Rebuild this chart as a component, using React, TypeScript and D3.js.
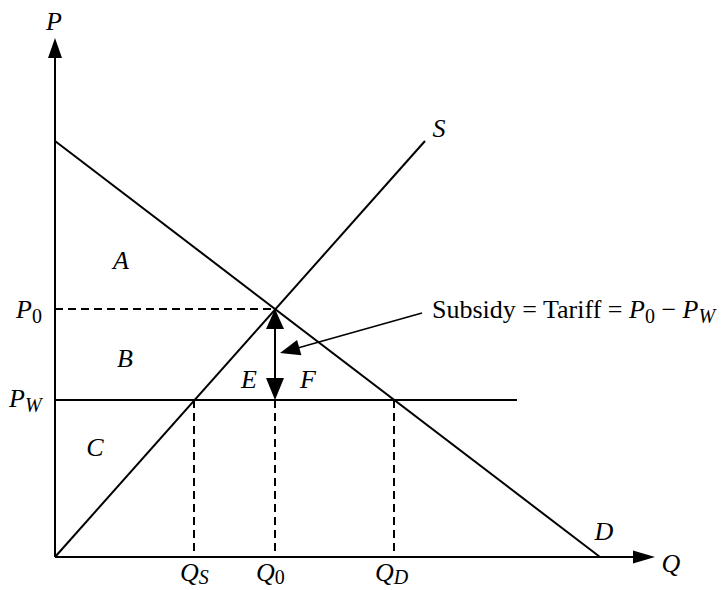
import React from "react";
import * as d3 from "d3";

// Model values (arbitrary units: quantity Q, price P)
const demandPoints: [number, number][] = [[0, 41.6], [54.5, 0]];
const supplyPoints: [number, number][] = [[0, 0], [37, 41.6]];
const priceLevels = { P0: 24.8, PW: 15.7 };
const quantityLevels = { QS: 13.9, Q0: 22, QD: 33.9 };
const worldPriceLineEnd = 46.2;
const axisMax = { Q: 60, P: 51.9 };

const W = 726, H = 590;
const x = d3.scaleLinear().domain([0, 60]).range([55, 655]);
const y = d3.scaleLinear().domain([0, 52]).range([557, 37]);
const line = d3.line<[number, number]>().x(d => x(d[0])).y(d => y(d[1]));

const FONT = "'Liberation Serif', 'Times New Roman', serif";
const FS = 26;
const SUB = 20;

function Sub({ base, sub, xx, yy, dy = 5 }: { base: string; sub: string; xx: number; yy: number; dy?: number }) {
  return (
    <text x={xx} y={yy} fontFamily={FONT} fontSize={FS} fontStyle="italic">
      {base}
      <tspan fontSize={SUB} dy={dy} fontStyle={/\d/.test(sub) ? "normal" : "italic"}>{sub}</tspan>
    </text>
  );
}

function tri(tip: [number, number], dir: [number, number], len: number, half: number) {
  const [tx, ty] = tip;
  const [dx, dy] = dir;
  const n = Math.hypot(dx, dy);
  const ux = dx / n, uy = dy / n;
  const bx = tx - ux * len, by = ty - uy * len;
  const px = -uy, py = ux;
  return `M${tx},${ty}L${bx + px * half},${by + py * half}L${bx - px * half},${by - py * half}Z`;
}

export default function App() {
  const x0 = x(0), y0 = y(0);
  const yP0 = y(priceLevels.P0), yPW = y(priceLevels.PW);
  const xQ0 = x(quantityLevels.Q0);
  const ptrStart: [number, number] = [422, 313];
  const ptrTip: [number, number] = [280, 353];
  const stroke = "#000";
  return (
    <svg width={W} height={H} style={{ position: "absolute", left: 0, top: 0, background: "#fff" }}>
      {/* axes */}
      <line x1={x0} y1={y0} x2={x0} y2={y(axisMax.P) + 18} stroke={stroke} strokeWidth={2} />
      <path d={tri([x0, y(axisMax.P)], [0, -1], 20, 7)} fill={stroke} />
      <line x1={x0} y1={y0} x2={x(axisMax.Q) - 18} y2={y0} stroke={stroke} strokeWidth={2} />
      <path d={tri([x(axisMax.Q), y0], [1, 0], 22, 6.5)} fill={stroke} />

      {/* dashed guides */}
      <line x1={x0} y1={yP0} x2={xQ0} y2={yP0} stroke={stroke} strokeWidth={2} strokeDasharray="8,5" />
      <line x1={x(quantityLevels.QS)} y1={yPW} x2={x(quantityLevels.QS)} y2={y0} stroke={stroke} strokeWidth={2} strokeDasharray="8,5" />
      <line x1={xQ0} y1={yPW} x2={xQ0} y2={y0} stroke={stroke} strokeWidth={2} strokeDasharray="8,5" />
      <line x1={x(quantityLevels.QD)} y1={yPW} x2={x(quantityLevels.QD)} y2={y0} stroke={stroke} strokeWidth={2} strokeDasharray="8,5" />

      {/* world price line */}
      <line x1={x0} y1={yPW} x2={x(worldPriceLineEnd)} y2={yPW} stroke={stroke} strokeWidth={2} />

      {/* curves */}
      <path d={line(demandPoints) || ""} stroke={stroke} strokeWidth={2} fill="none" />
      <path d={line(supplyPoints) || ""} stroke={stroke} strokeWidth={2} fill="none" />

      {/* double arrow */}
      <line x1={xQ0} y1={yP0 + 15} x2={xQ0} y2={yPW - 15} stroke={stroke} strokeWidth={2} />
      <path d={tri([xQ0, yP0], [0, -1], 20, 9)} fill={stroke} />
      <path d={tri([xQ0, yPW], [0, 1], 22, 9)} fill={stroke} />

      {/* pointer arrow */}
      <line x1={ptrStart[0]} y1={ptrStart[1]} x2={ptrTip[0] + 15} y2={ptrTip[1] - 4.2} stroke={stroke} strokeWidth={1.6} />
      <path d={tri(ptrTip, [ptrTip[0] - ptrStart[0], ptrTip[1] - ptrStart[1]], 20, 8)} fill={stroke} />

      {/* labels */}
      <text x={54} y={30} fontFamily={FONT} fontSize={FS} fontStyle="italic" textAnchor="middle">P</text>
      <text x={671} y={572} fontFamily={FONT} fontSize={FS} fontStyle="italic" textAnchor="middle">Q</text>
      <text x={604} y={540} fontFamily={FONT} fontSize={FS} fontStyle="italic" textAnchor="middle">D</text>
      <text x={439} y={137} fontFamily={FONT} fontSize={FS} fontStyle="italic" textAnchor="middle">S</text>

      <Sub base="P" sub="0" xx={16} yy={318} />
      <Sub base="P" sub="W" xx={9} yy={407} />
      <Sub base="Q" sub="S" xx={180} yy={581} dy={3} />
      <Sub base="Q" sub="0" xx={256} yy={581} dy={3} />
      <Sub base="Q" sub="D" xx={375} yy={581} dy={3} />

      <text x={121} y={269} fontFamily={FONT} fontSize={FS} fontStyle="italic" textAnchor="middle">A</text>
      <text x={125} y={367} fontFamily={FONT} fontSize={FS} fontStyle="italic" textAnchor="middle">B</text>
      <text x={95} y={456} fontFamily={FONT} fontSize={FS} fontStyle="italic" textAnchor="middle">C</text>
      <text x={249} y={388} fontFamily={FONT} fontSize={FS} fontStyle="italic" textAnchor="middle">E</text>
      <text x={308} y={388} fontFamily={FONT} fontSize={FS} fontStyle="italic" textAnchor="middle">F</text>

      <text x={432} y={318} fontFamily={FONT} fontSize={FS}>
        Subsidy = Tariff = <tspan fontStyle="italic">P</tspan>
        <tspan fontSize={SUB} dy={5}>0</tspan>
        <tspan dy={-5}> − </tspan>
        <tspan fontStyle="italic">P</tspan>
        <tspan fontSize={SUB} dy={5} fontStyle="italic">W</tspan>
      </text>
    </svg>
  );
}
